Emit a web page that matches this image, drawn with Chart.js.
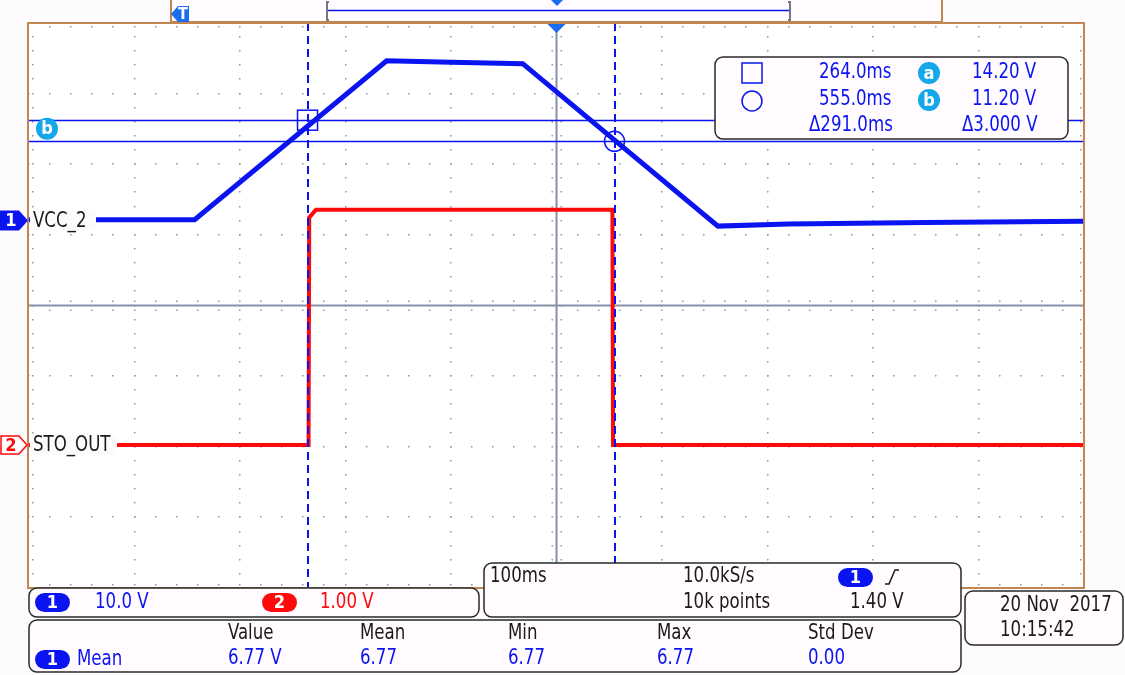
<!DOCTYPE html>
<html>
<head>
<meta charset="utf-8">
<title>VCC_2 / STO_OUT</title>
<script src="https://cdn.jsdelivr.net/npm/chart.js@4.4.1/dist/chart.umd.min.js"></script>
<style>
    html, body { margin: 0; padding: 0; background: #fefbfe; }
    #scope-wrap { position: relative; width: 1125px; height: 675px; }
</style>
</head>
<body>
<div id="scope-wrap"><canvas id="scope-chart" width="1125" height="675"></canvas></div>
<script>
// Channel 1 (VCC_2), time in ms and volts
const vccTimes = [0, 157, 339, 400, 468, 653, 720, 850, 1000];
const vccVolts = [0.1, 0.1, 22.6, 22.4, 22.2, -0.8, -0.5, -0.3, -0.1];

// Channel 2 (STO_OUT)
const stoTimes = [0, 265, 265.6, 272, 553, 553.6, 1000];
const stoVolts = [0, 0, 3.22, 3.33, 3.33, 0, 0];

// Cursors: vertical (ms) and horizontal (V on channel 1)
const cursorTimes = [264, 555];
const cursorVolts = [14.2, 11.2];

// Scope settings
const timeRange = [0, 1000];          // 100 ms/div, 10 div
const ch1Range = [-52.04, 27.96];     // 10.0 V/div, 8 div
const ch2Range = [-2.025, 5.975];     // 1.00 V/div, 8 div
const divRange = [-4, 4];

const readoutRows = [
    ['264.0ms', 'a', '14.20 V'],
    ['555.0ms', 'b', '11.20 V'],
    ['\u0394291.0ms', '', '\u03943.000 V']
];
const measureHeaders = ['Value', 'Mean', 'Min', 'Max', 'Std Dev'];
const measureValues = ['6.77 V', '6.77', '6.77', '6.77', '0.00'];

(function() {
    'use strict';

    const FONT = "'DejaVu Sans Condensed', 'Liberation Sans Narrow', 'Noto Sans', sans-serif";
    const BLUE = '#0a14f0';
    const RED = '#ff0a0a';
    const CYAN = '#14a8ea';
    const DOT = '#8a93ad';
    const FRAME = '#c08850';
    const PANEL = '#fffbff';

    function font(size, bold) {
        return (bold ? 'bold ' : '') + size + 'px ' + FONT;
    }

    // scope text: tall and narrow
    function text(ctx, str, x, y, color) {
        ctx.save();
        ctx.translate(x, y);
        ctx.scale(0.88, 1);
        ctx.font = font(21);
        ctx.fillStyle = color;
        ctx.textAlign = 'left';
        ctx.textBaseline = 'middle';
        ctx.fillText(str, 0, 0);
        ctx.restore();
    }

    function panel(ctx, x, y, w, h) {
        ctx.beginPath();
        ctx.roundRect(x, y, w, h, 8);
        ctx.fillStyle = PANEL;
        ctx.fill();
        ctx.lineWidth = 1.5;
        ctx.strokeStyle = '#2a2a2a';
        ctx.stroke();
    }

    function pill(ctx, x, y, w, h, fill, label) {
        ctx.beginPath();
        ctx.roundRect(x, y, w, h, h / 2);
        ctx.fillStyle = fill;
        ctx.fill();
        ctx.font = font(18, true);
        ctx.fillStyle = '#ffffff';
        ctx.textAlign = 'center';
        ctx.textBaseline = 'middle';
        ctx.fillText(label, x + w / 2, y + h / 2 + 1);
    }

    function badge(ctx, cx, cy, letter) {
        ctx.beginPath();
        ctx.arc(cx, cy, 11, 0, Math.PI * 2);
        ctx.fillStyle = CYAN;
        ctx.fill();
        ctx.font = font(18, true);
        ctx.fillStyle = '#ffffff';
        ctx.textAlign = 'center';
        ctx.textBaseline = 'middle';
        ctx.fillText(letter, cx, cy + 1);
    }

    /**
     * Dotted graticule drawn from the scales
     */
    const graticulePlugin = {
        id: 'graticule',
        beforeDatasetsDraw: function(chart) {
            const ctx = chart.ctx;
            const xs = chart.scales.x;
            const ds = chart.scales.yDiv;
            const area = chart.chartArea;
            const xMid = xs.getPixelForValue(500);
            const yMid = ds.getPixelForValue(0);
            ctx.save();
            ctx.fillStyle = '#ffffff';
            ctx.fillRect(area.left, area.top, area.right - area.left, area.bottom - area.top);

            ctx.fillStyle = DOT;
            // vertical major lines, a dot per minor step
            for (let i = 1; i < 10; i++) {
                if (i === 5) continue;
                const px = Math.round(xs.getPixelForValue(i * 100));
                for (let j = 0; j <= 40; j++) {
                    const py = Math.round(ds.getPixelForValue(-4 + j * 0.2));
                    ctx.fillRect(px - 1, py - 1, 1.5, 1.5);
                }
            }
            // horizontal major lines
            for (let i = -3; i <= 3; i++) {
                if (i === 0) continue;
                const py = Math.round(ds.getPixelForValue(i));
                for (let j = 0; j <= 50; j++) {
                    const px = Math.round(xs.getPixelForValue(j * 20));
                    ctx.fillRect(px - 1, py - 1, 1.5, 1.5);
                }
            }
            // edge and centre ticks
            for (let j = 1; j < 50; j++) {
                const px = Math.round(xs.getPixelForValue(j * 20));
                ctx.fillRect(px - 1, area.top + 3, 1.5, 1.5);
                ctx.fillRect(px - 1, area.bottom - 4, 1.5, 1.5);
                ctx.fillRect(px - 1, yMid - 5, 1.5, 1.5);
                ctx.fillRect(px - 1, yMid + 4, 1.5, 1.5);
            }
            for (let j = 1; j < 40; j++) {
                const py = Math.round(ds.getPixelForValue(-4 + j * 0.2));
                ctx.fillRect(area.left + 3, py - 1, 1.5, 1.5);
                ctx.fillRect(area.right - 4, py - 1, 1.5, 1.5);
                ctx.fillRect(xMid - 5, py - 1, 1.5, 1.5);
                ctx.fillRect(xMid + 4, py - 1, 1.5, 1.5);
            }
            // solid centre lines
            ctx.strokeStyle = '#8890a8';
            ctx.lineWidth = 2;
            ctx.beginPath();
            ctx.moveTo(area.left, yMid);
            ctx.lineTo(area.right, yMid);
            ctx.moveTo(xMid, area.top);
            ctx.lineTo(xMid, area.bottom);
            ctx.stroke();
            ctx.restore();
        }
    };

    /**
     * Cursors, markers and readout panels
     */
    const overlayPlugin = {
        id: 'scopeOverlay',
        afterDatasetsDraw: function(chart) {
            const ctx = chart.ctx;
            const xs = chart.scales.x;
            const y1 = chart.scales.y1;
            const area = chart.chartArea;
            ctx.save();
            ctx.strokeStyle = BLUE;

            // vertical time cursors
            ctx.lineWidth = 2;
            ctx.setLineDash([8, 5]);
            cursorTimes.forEach(function(t) {
                const px = Math.round(xs.getPixelForValue(t));
                ctx.beginPath();
                ctx.moveTo(px, area.top);
                ctx.lineTo(px, area.bottom);
                ctx.stroke();
            });
            ctx.setLineDash([]);

            // horizontal voltage cursors
            ctx.lineWidth = 1.5;
            cursorVolts.forEach(function(v) {
                const py = Math.round(y1.getPixelForValue(v)) + 0.5;
                ctx.beginPath();
                ctx.moveTo(area.left, py);
                ctx.lineTo(area.right, py);
                ctx.stroke();
            });

            // cursor intersection markers
            const sx = xs.getPixelForValue(cursorTimes[0]);
            const sy = y1.getPixelForValue(cursorVolts[0]);
            ctx.strokeRect(sx - 10, sy - 10, 20, 20);
            ctx.beginPath();
            ctx.arc(xs.getPixelForValue(cursorTimes[1]), y1.getPixelForValue(cursorVolts[1]), 10, 0, Math.PI * 2);
            ctx.stroke();

            // trigger position marker
            const tx = xs.getPixelForValue(500);
            ctx.fillStyle = '#1a6cf0';
            ctx.beginPath();
            ctx.moveTo(tx - 9, area.top + 1);
            ctx.lineTo(tx + 9, area.top + 1);
            ctx.lineTo(tx, area.top + 10);
            ctx.closePath();
            ctx.fill();

            badge(ctx, 47, (y1.getPixelForValue(cursorVolts[0]) + y1.getPixelForValue(cursorVolts[1])) / 2 - 2, 'b');
            ctx.restore();
        },
        afterDraw: function(chart) {
            const ctx = chart.ctx;
            const area = chart.chartArea;
            const y1 = chart.scales.y1;
            const y2 = chart.scales.y2;
            const INK = '#1a1a1a';
            ctx.save();

            // plot frame
            ctx.strokeStyle = FRAME;
            ctx.lineWidth = 2;
            ctx.strokeRect(area.left - 1, area.top, area.right - area.left + 1, area.bottom - area.top);

            // top record strip
            ctx.fillStyle = PANEL;
            ctx.fillRect(171, -1, 771, 23);
            ctx.strokeRect(171, -1, 771, 23);
            ctx.strokeStyle = BLUE;
            ctx.lineWidth = 1.5;
            ctx.beginPath();
            ctx.moveTo(328, 10.5);
            ctx.lineTo(789, 10.5);
            ctx.stroke();
            ctx.strokeStyle = '#707888';
            ctx.lineWidth = 2;
            ctx.beginPath();
            ctx.moveTo(329, 2); ctx.lineTo(327, 2); ctx.lineTo(327, 20); ctx.lineTo(329, 20);
            ctx.moveTo(788, 2); ctx.lineTo(790, 2); ctx.lineTo(790, 20); ctx.lineTo(788, 20);
            ctx.stroke();
            ctx.fillStyle = '#1a6cf0';
            ctx.beginPath();
            ctx.moveTo(551, 0); ctx.lineTo(563, 0); ctx.lineTo(557, 6);
            ctx.closePath();
            ctx.fill();
            ctx.beginPath();
            ctx.moveTo(171, 14); ctx.lineTo(178, 6); ctx.lineTo(189, 6);
            ctx.lineTo(189, 22); ctx.lineTo(178, 22);
            ctx.closePath();
            ctx.fill();
            ctx.font = font(16, true);
            ctx.fillStyle = '#ffffff';
            ctx.textAlign = 'center';
            ctx.textBaseline = 'middle';
            ctx.fillText('T', 183, 15);

            // channel markers and trace labels
            const c1 = y1.getPixelForValue(0);
            const c2 = y2.getPixelForValue(0);
            ctx.fillStyle = '#fefbfe';
            ctx.fillRect(30, c1 - 10, 66, 20);
            ctx.fillRect(30, c2 - 10, 87, 20);
            text(ctx, 'VCC_2', 33, c1 + 1, INK);
            text(ctx, 'STO_OUT', 33, c2 + 1, INK);

            ctx.beginPath();
            ctx.moveTo(0, c1 - 10); ctx.lineTo(19, c1 - 10); ctx.lineTo(28, c1);
            ctx.lineTo(19, c1 + 10); ctx.lineTo(0, c1 + 10);
            ctx.closePath();
            ctx.fillStyle = BLUE;
            ctx.fill();
            ctx.font = font(18, true);
            ctx.fillStyle = '#ffffff';
            ctx.textAlign = 'center';
            ctx.fillText('1', 11, c1 + 1);

            ctx.beginPath();
            ctx.moveTo(1, c2 - 9); ctx.lineTo(19, c2 - 9); ctx.lineTo(27, c2);
            ctx.lineTo(19, c2 + 9); ctx.lineTo(1, c2 + 9);
            ctx.closePath();
            ctx.fillStyle = '#ffffff';
            ctx.fill();
            ctx.strokeStyle = RED;
            ctx.lineWidth = 1.5;
            ctx.stroke();
            ctx.font = font(18, true);
            ctx.fillStyle = RED;
            ctx.fillText('2', 11, c2 + 1);

            // cursor readout
            panel(ctx, 715, 57, 353, 82);
            ctx.strokeStyle = BLUE;
            ctx.lineWidth = 1.5;
            ctx.strokeRect(742, 63, 20, 20);
            ctx.beginPath();
            ctx.arc(752, 101, 10, 0, Math.PI * 2);
            ctx.stroke();
            const rowY = [73, 100, 126];
            const timeX = [819, 819, 809];
            const voltX = [972, 972, 962];
            readoutRows.forEach(function(row, i) {
                text(ctx, row[0], timeX[i], rowY[i], BLUE);
                if (row[1]) badge(ctx, 929, rowY[i], row[1]);
                text(ctx, row[2], voltX[i], rowY[i], BLUE);
            });

            // vertical scale panel
            panel(ctx, 29, 588, 450, 29);
            pill(ctx, 35, 593, 35, 19, BLUE, '1');
            text(ctx, '10.0 V', 95, 603, BLUE);
            pill(ctx, 262, 593, 35, 19, RED, '2');
            text(ctx, '1.00 V', 320, 603, RED);

            // timebase / trigger panel
            panel(ctx, 484, 563, 477, 54);
            text(ctx, '100ms', 490, 577, INK);
            text(ctx, '10.0kS/s', 683, 577, INK);
            text(ctx, '10k points', 683, 603, INK);
            pill(ctx, 838, 568, 35, 19, BLUE, '1');
            ctx.strokeStyle = INK;
            ctx.lineWidth = 1.5;
            ctx.beginPath();
            ctx.moveTo(885, 584); ctx.lineTo(889, 584); ctx.lineTo(895, 570); ctx.lineTo(899, 570);
            ctx.stroke();
            text(ctx, '1.40 V', 850, 603, INK);

            // date panel
            panel(ctx, 965, 591, 158, 54);
            text(ctx, '20 Nov  2017', 1000, 606, INK);
            text(ctx, '10:15:42', 1000, 631, INK);

            // measurement panel
            panel(ctx, 29, 620, 932, 52);
            const colX = [228, 360, 508, 657, 808];
            measureHeaders.forEach(function(h, i) {
                text(ctx, h, colX[i], 634, INK);
                text(ctx, measureValues[i], colX[i], 659, BLUE);
            });
            pill(ctx, 35, 650, 35, 19, BLUE, '1');
            text(ctx, 'Mean', 77, 660, BLUE);

            ctx.restore();
        }
    };

    function points(times, values) {
        return times.map(function(t, i) {
            return { x: t, y: values[i] };
        });
    }

    new Chart(document.getElementById('scope-chart'), {
        type: 'line',
        data: {
            datasets: [
                {
                    label: 'STO_OUT',
                    data: points(stoTimes, stoVolts),
                    yAxisID: 'y2',
                    borderColor: RED,
                    borderWidth: 4,
                    pointRadius: 0,
                    tension: 0
                },
                {
                    label: 'VCC_2',
                    data: points(vccTimes, vccVolts),
                    yAxisID: 'y1',
                    borderColor: BLUE,
                    borderWidth: 5,
                    pointRadius: 0,
                    tension: 0
                }
            ]
        },
        options: {
            responsive: false,
            animation: false,
            devicePixelRatio: 1,
            layout: { padding: { left: 29, right: 41, top: 23, bottom: 87 } },
            plugins: {
                legend: { display: false },
                tooltip: { enabled: false }
            },
            scales: {
                x: { type: 'linear', min: timeRange[0], max: timeRange[1], display: false },
                y1: { type: 'linear', axis: 'y', min: ch1Range[0], max: ch1Range[1], display: false },
                y2: { type: 'linear', axis: 'y', min: ch2Range[0], max: ch2Range[1], display: false },
                yDiv: { type: 'linear', axis: 'y', min: divRange[0], max: divRange[1], display: false }
            }
        },
        plugins: [graticulePlugin, overlayPlugin]
    });
})();
</script>
</body>
</html>
